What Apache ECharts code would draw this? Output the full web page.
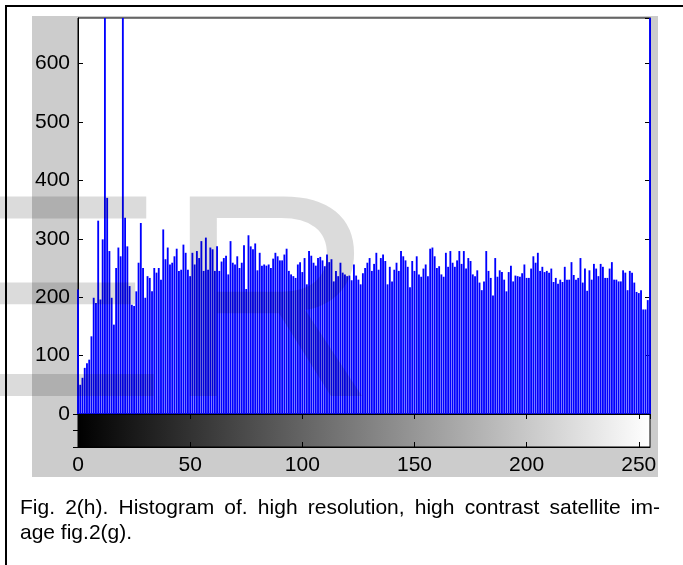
<!DOCTYPE html>
<html><head><meta charset="utf-8">
<script src="https://cdn.jsdelivr.net/npm/echarts@6/dist/echarts.min.js"></script>
<style>html,body{margin:0;padding:0;background:#fff}#c{width:683px;height:565px}</style>
</head><body><div id="c"></div>
<script>
// Histogram counts per grey level (bins 0..255).
// Values above the axis top (spikes) are estimates; they are clipped by the axis.
const countsBins0to41 = [213, 50, 62, 79, 87, 93, 133, 199, 190, 331, 196, 299, 1200, 370, 279, 199, 153, 250, 285, 270, 1100, 336, 287, 219, 187, 185, 210, 259, 327, 250, 199, 236, 233, 210, 250, 242, 250, 230, 316, 265, 285, 256];
const countsBins42to82 = [259, 270, 283, 245, 247, 290, 276, 247, 236, 276, 256, 279, 267, 296, 245, 302, 247, 285, 282, 245, 287, 245, 261, 267, 271, 239, 296, 259, 256, 270, 250, 259, 289, 214, 306, 287, 282, 292, 246, 276, 254];
const countsBins83to124 = [256, 254, 256, 250, 266, 276, 270, 263, 263, 273, 283, 245, 239, 236, 233, 256, 260, 243, 267, 222, 279, 271, 259, 254, 267, 269, 263, 253, 273, 260, 265, 227, 245, 236, 259, 242, 239, 236, 237, 229, 256, 237];
const countsBins125to165 = [230, 222, 241, 250, 259, 267, 245, 257, 276, 247, 267, 273, 262, 222, 252, 227, 247, 259, 245, 279, 270, 263, 252, 217, 262, 245, 270, 239, 235, 249, 256, 236, 283, 285, 270, 250, 253, 239, 235, 276, 252];
const countsBins166to208 = [279, 259, 252, 263, 279, 257, 279, 249, 267, 262, 239, 236, 246, 225, 212, 227, 279, 245, 233, 203, 267, 235, 246, 243, 230, 210, 243, 254, 227, 237, 236, 235, 241, 256, 233, 233, 249, 270, 259, 276, 245, 252, 243];
const countsBins209to255 = [245, 242, 249, 226, 233, 223, 230, 226, 252, 230, 230, 260, 238, 230, 233, 267, 225, 249, 211, 246, 230, 257, 249, 236, 257, 252, 233, 233, 249, 260, 230, 230, 227, 227, 246, 242, 212, 245, 242, 225, 209, 207, 212, 179, 179, 195, 3000];

const yTickLabels = [0, 100, 200, 300, 400, 500, 600];
const xTickLabels = [0, 50, 100, 150, 200, 250];
const captionLine1 = 'Fig. 2(h). Histogram of. high resolution, high contrast satellite im-';
const captionLine2 = 'age fig.2(g).';
const watermarkHead = 'IJSE';
const watermarkTail = 'R';

const counts = countsBins0to41.concat(countsBins42to82, countsBins83to124, countsBins125to165, countsBins166to208, countsBins209to255);
const barData = counts.map((v, i) => [i, v]);

const FONT = '"Liberation Sans", Arial, sans-serif';
const chart = echarts.init(document.getElementById('c'), null, { renderer: 'canvas' });

// justified first caption line
const capFont = '21px "Liberation Sans"';
const mctx = document.createElement('canvas').getContext('2d');
mctx.font = capFont;
const words = captionLine1.split(' ');
const wW = words.map(w => mctx.measureText(w).width);
const capLeft = 20, capRight = 660;
const gap = (capRight - capLeft - wW.reduce((a, b) => a + b, 0)) / (words.length - 1);
const captionEls = [];
let cx = capLeft;
words.forEach((w, i) => {
  captionEls.push({ type: 'text', x: cx, y: 508, z: 10, silent: true,
    style: { text: w, font: capFont, fill: '#000', align: 'left', verticalAlign: 'middle' } });
  cx += wW[i] + gap;
});
captionEls.push({ type: 'text', x: capLeft, y: 533, z: 10, silent: true,
  style: { text: captionLine2, font: capFont, fill: '#000', align: 'left', verticalAlign: 'middle' } });

const axisLineBlack = { show: true, lineStyle: { color: '#000', width: 1 } };
const tickIn = { show: true, inside: true, length: 5, lineStyle: { color: '#000' } };
const wmFont = '290px "Liberation Sans"';
const wmFill = 'rgba(0,0,0,0.14)';

chart.setOption({
  animation: false,
  backgroundColor: '#fff',
  grid: [
    { left: 78, top: 18, width: 572, height: 396, show: true, backgroundColor: '#fff', borderColor: '#000', borderWidth: 1 },
    { left: 78, top: 414, width: 572, height: 33, show: true,
      backgroundColor: new echarts.graphic.LinearGradient(0, 0, 1, 0, [{ offset: 0, color: '#000' }, { offset: 1, color: '#fff' }]),
      borderColor: '#000', borderWidth: 1 }
  ],
  xAxis: [
    { gridIndex: 0, type: 'value', min: 0, max: 255, interval: 50, position: 'top',
      axisLine: axisLineBlack, axisTick: tickIn, axisLabel: { show: false }, splitLine: { show: false } },
    { gridIndex: 1, type: 'value', min: 0, max: 255, interval: 50, position: 'bottom',
      axisLine: axisLineBlack, axisTick: tickIn, splitLine: { show: false },
      axisLabel: { color: '#000', fontSize: 21, fontFamily: FONT, margin: 8, showMaxLabel: false,
        formatter: v => (xTickLabels.indexOf(v) >= 0 ? String(v) : '') } },
    { gridIndex: 1, type: 'value', min: 0, max: 255, interval: 50, position: 'top',
      axisLine: axisLineBlack, axisTick: tickIn, axisLabel: { show: false }, splitLine: { show: false } }
  ],
  yAxis: [
    { gridIndex: 0, type: 'value', min: 0, max: 678, interval: 100, position: 'left',
      axisLine: axisLineBlack, axisTick: tickIn, splitLine: { show: false },
      axisLabel: { color: '#000', fontSize: 21, fontFamily: FONT, margin: 8, showMaxLabel: false,
        formatter: v => (yTickLabels.indexOf(v) >= 0 ? String(v) : '') } },
    { gridIndex: 0, type: 'value', min: 0, max: 678, interval: 100, position: 'right',
      axisLine: axisLineBlack, axisTick: tickIn, axisLabel: { show: false }, splitLine: { show: false } },
    { gridIndex: 1, type: 'value', min: 0, max: 1, interval: 0.5, position: 'right',
      axisLine: axisLineBlack, axisTick: tickIn, axisLabel: { show: false }, splitLine: { show: false } }
  ],
  series: [
    { type: 'bar', xAxisIndex: 0, yAxisIndex: 0, data: barData, barWidth: 1.85, clip: true,
      itemStyle: { color: '#0000ff' }, emphasis: { disabled: true } }
  ],
  graphic: {
    elements: [
      { type: 'rect', z: -10, silent: true, shape: { x: 32, y: 16, width: 626, height: 461 }, style: { fill: '#cccccc' } },
      { type: 'rect', z: 5, silent: true, shape: { x: 5, y: 5, width: 678, height: 2 }, style: { fill: '#000' } },
      { type: 'rect', z: 5, silent: true, shape: { x: 5, y: 5, width: 2, height: 560 }, style: { fill: '#000' } },
      { type: 'text', x: 170, y: 316, z: 100, silent: true, scaleX: 1.3, originX: 0, originY: 0,
        style: { text: watermarkHead, font: wmFont, fill: wmFill, align: 'right', verticalAlign: 'middle' } },
      { type: 'text', x: 166, y: 316, z: 100, silent: true,
        style: { text: watermarkTail, font: wmFont, fill: wmFill, align: 'left', verticalAlign: 'middle' } }
    ].concat(captionEls)
  }
});
</script></body></html>
